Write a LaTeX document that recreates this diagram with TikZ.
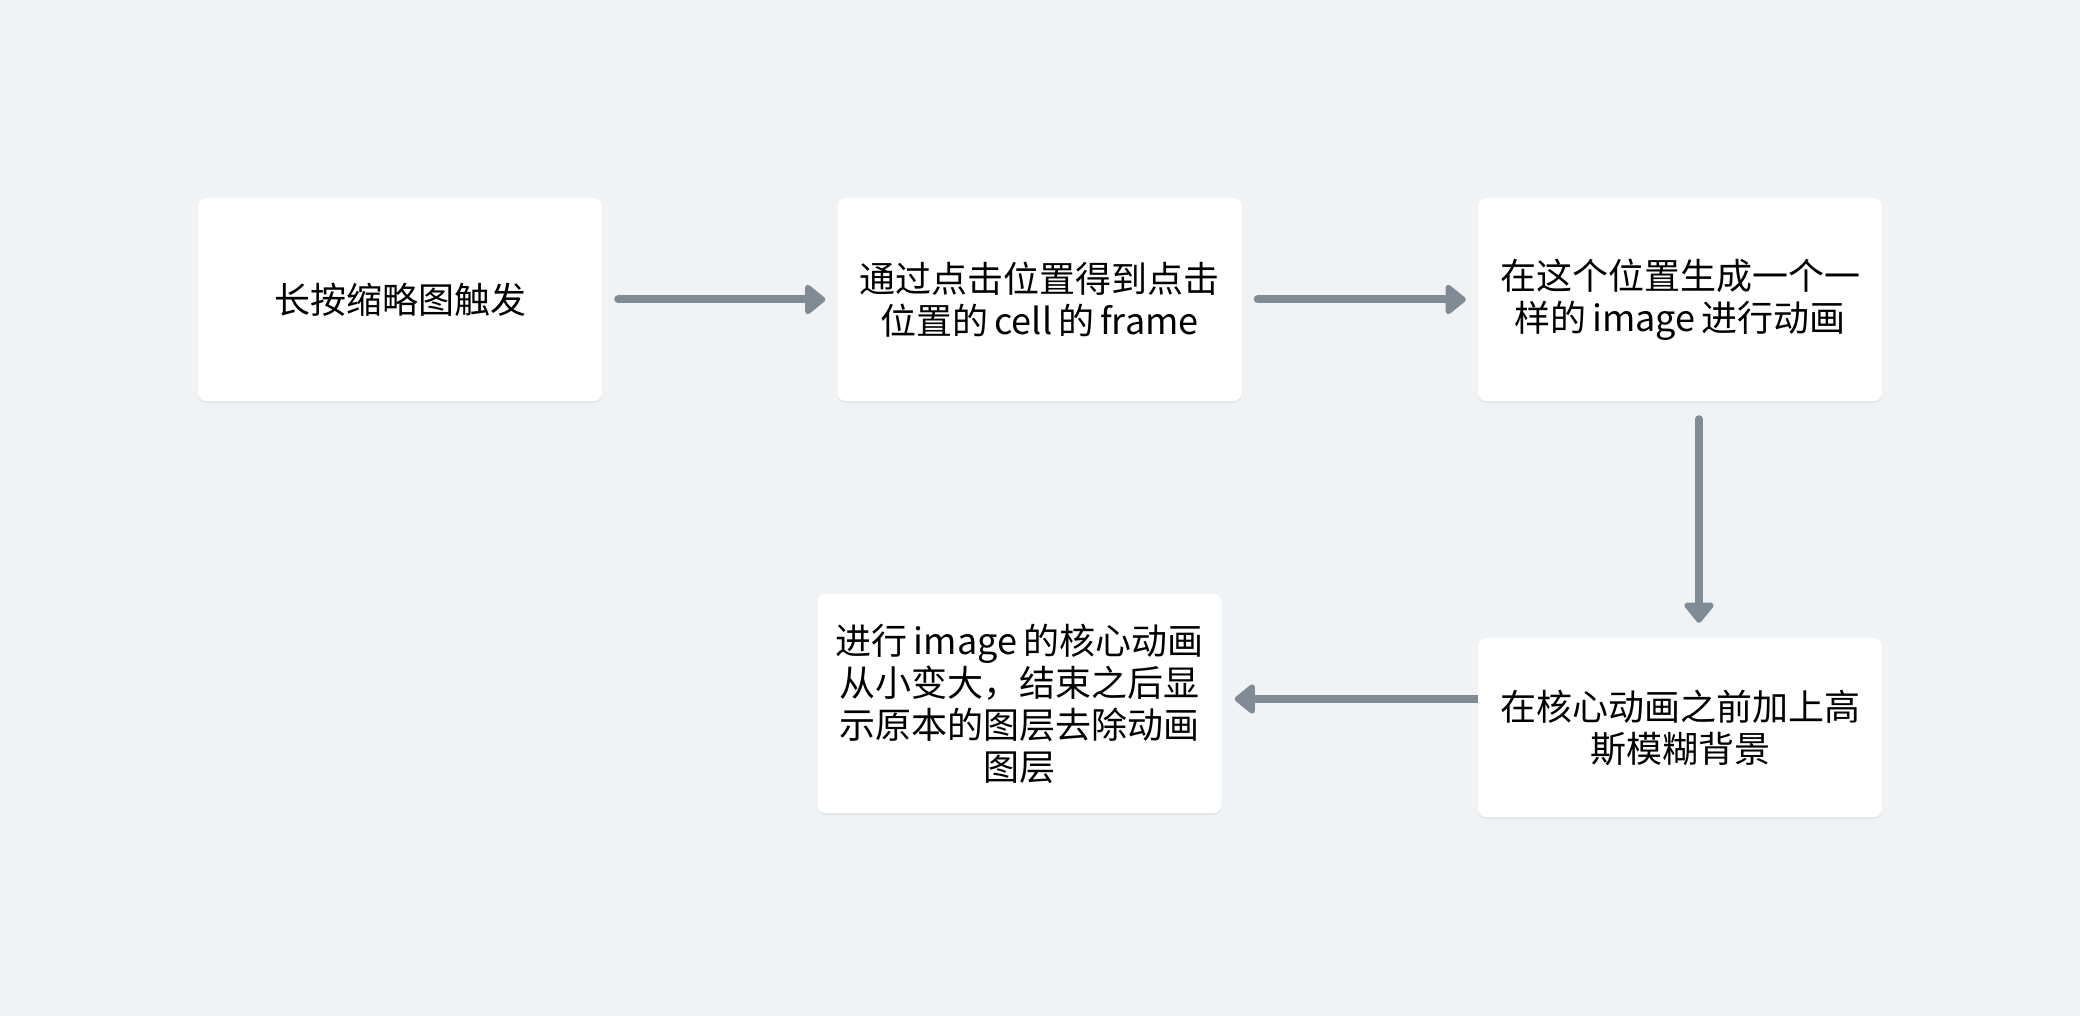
\documentclass[tikz,border=0pt]{standalone}
\usepackage{fontspec}
\setmainfont{Noto Sans CJK SC}
\usetikzlibrary{arrows.meta,shadows,calc}
\definecolor{bgc}{RGB}{240,243,246}
\definecolor{arrc}{RGB}{128,139,150}
\newcommand{\gp}{\hspace{6pt}}
\begin{document}
\begin{tikzpicture}[x=1pt,y=-1pt,
  box/.style={rectangle, rounded corners=8pt, fill=white, draw=none,
    minimum width=404pt, inner sep=0pt, align=center,
    font=\fontsize{36}{42}\selectfont, text=black,
    drop shadow={shadow xshift=0pt, shadow yshift=-2pt, opacity=0.05, fill=black}},
  arr/.style={draw=arrc, line width=8pt, line cap=round,
    -{Triangle[length=22pt,width=34pt,round]}}]
\fill[bgc] (0,0) rectangle (2080,1016);
\useasboundingbox (0,0) rectangle (2080,1016);
\node[box, minimum height=203pt] (b1) at (400,299.5) {长按缩略图触发};
\node[box, minimum height=203pt] (b2) at (1039.5,299.5) {通过点击位置得到点击\\位置的\gp cell\gp 的\gp frame};
\node[box, minimum height=203pt] (b3) at (1680,299.5) {在这个位置生成一个一\\样的\gp image\gp 进行动画};
\node[box, minimum height=179pt] (b4) at (1680,727.5) {在核心动画之前加上高\\斯模糊背景};
\node[box, minimum height=219pt] (b5) at (1019.5,703.5) {进行\gp image\gp 的核心动画\\从小变大，结束之后显\\示原本的图层去除动画\\图层};
\draw[arr, shorten <=16pt, shorten >=12pt] (b1.east) -- (b2.west);
\draw[arr, shorten <=16pt, shorten >=12pt] (b2.east) -- (b3.west);
\coordinate (c3) at ([xshift=19pt]b3.south);
\draw[arr, shorten <=18pt, shorten >=15pt] (c3) -- (c3 |- b4.north);
\coordinate (c4) at ([yshift=28.5pt]b4.west);
\draw[arr, line cap=butt, shorten >=13pt] (c4) -- (c4 -| b5.east);
\end{tikzpicture}
\end{document}
